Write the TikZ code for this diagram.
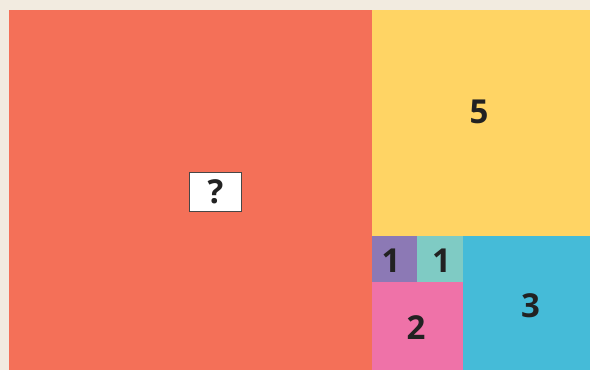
\documentclass[tikz,border=0pt]{standalone}
\usepackage{fontspec}
\setmainfont{Open Sans}
\definecolor{bgc}{HTML}{F2EBE0}
\definecolor{redc}{HTML}{F47058}
\definecolor{yelc}{HTML}{FFD464}
\definecolor{purc}{HTML}{8C79B5}
\definecolor{teac}{HTML}{7FCBC4}
\definecolor{pinc}{HTML}{EF72A8}
\definecolor{bluc}{HTML}{45BBD8}
\definecolor{txtc}{HTML}{222222}
\begin{document}
\begin{tikzpicture}[x=1pt,y=-1pt,
  cell/.style={inner sep=0pt},
  lbl/.style={inner sep=0pt,text=txtc,font=\fontsize{33}{33}\selectfont\bfseries},
  qbox/.style={draw=black!72,fill=white,line width=1.2pt,minimum width=52pt,minimum height=39pt,inner sep=0pt,text=txtc,font=\fontsize{33}{33}\selectfont\bfseries}]
\fill[bgc] (0,0) rectangle (590,370);
\useasboundingbox (0,0) rectangle (590,370);
\fill[redc] (9,10) rectangle (372,370);
\fill[yelc] (372,10) rectangle (590,236);
\fill[purc] (372,236) rectangle (417,282);
\fill[teac] (417,236) rectangle (463,282);
\fill[pinc] (372,282) rectangle (463,370);
\fill[bluc] (463,236) rectangle (590,370);
\node[qbox] (q) at (215.5,192) {?};
\node[lbl] (l5) at (479,112) {5};
\node[lbl] (l1a) at (391,261) {1};
\node[lbl] (l1b) at (441.5,261) {1};
\node[lbl] (l2) at (416,327.5) {2};
\node[lbl] (l3) at (530.5,306) {3};
\end{tikzpicture}
\end{document}
